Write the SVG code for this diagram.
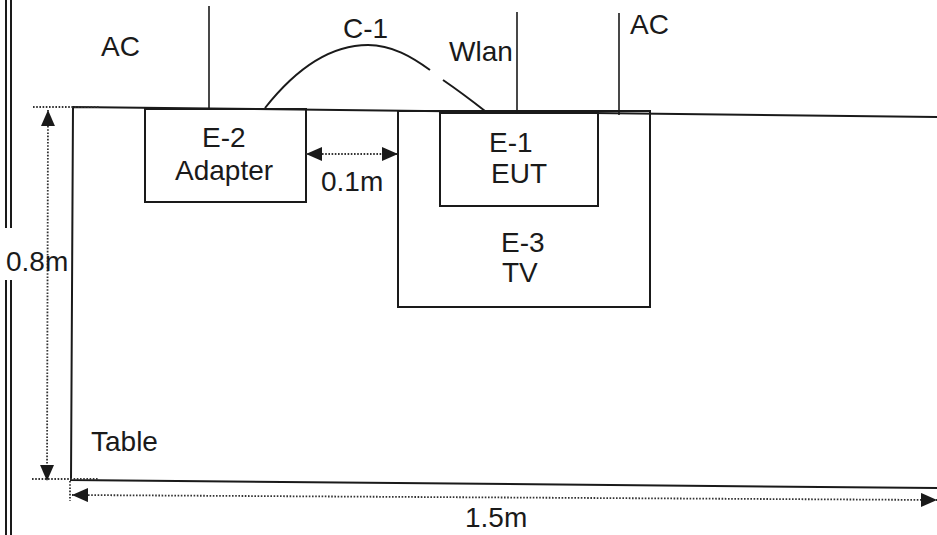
<svg xmlns="http://www.w3.org/2000/svg" width="937" height="535" viewBox="0 0 937 535">
<defs>
<style>
.t{font-family:"Liberation Sans",Arial,sans-serif;font-size:28px;fill:#1a1a1a}
.s{fill:none;stroke:#1a1a1a;stroke-width:2}
.th{fill:none;stroke:#1a1a1a;stroke-width:1.6}
.d{fill:none;stroke:#333;stroke-width:1.8;stroke-dasharray:1.6 1.6}
</style>
<marker id="ah" viewBox="0 0 16 14" refX="16" refY="7" markerWidth="16" markerHeight="14" markerUnits="userSpaceOnUse" orient="auto-start-reverse">
<path d="M0,0 L16,7 L0,14 Z" fill="#1a1a1a"/>
</marker>
</defs>
<rect width="937" height="535" fill="#fff"/>
<g id="frame">
<line class="s" x1="6" y1="0" x2="6" y2="228"/>
<line class="s" x1="11" y1="0" x2="11" y2="228"/>
<line class="s" x1="6" y1="280" x2="6" y2="535"/>
<line class="s" x1="11" y1="280" x2="11" y2="535"/>
</g>
<g id="table">
<path class="s" d="M73,107 L937,117 M73,107 L71,480 L937,488"/>
<text class="t" x="91" y="451">Table</text>
</g>
<g id="e2">
<rect class="s" x="145" y="109" width="161" height="93"/>
<text class="t" x="202" y="147">E-2</text>
<text class="t" x="175" y="180">Adapter</text>
</g>
<g id="e3">
<rect class="s" x="398" y="111" width="252" height="196"/>
<text class="t" x="501" y="252">E-3</text>
<text class="t" x="502" y="282">TV</text>
</g>
<g id="e1">
<rect class="s" x="440" y="113" width="158" height="93"/>
<text class="t" x="489" y="152">E-1</text>
<text class="t" x="491" y="183">EUT</text>
</g>
<g id="ac1">
<text class="t" x="101" y="56">AC</text>
</g>
<g id="wlan">
<text class="t" x="449" y="61">Wlan</text>
</g>
<g id="ac2">
<text class="t" x="630" y="34">AC</text>
</g>
<g id="connectors">
<line class="th" x1="209" y1="6" x2="209" y2="108"/>
<line class="th" x1="517" y1="12" x2="517" y2="114"/>
<line class="th" x1="619" y1="13" x2="619" y2="115"/>
<path class="s" d="M265,108 C295,70 330,45 368,45 C392,45 412,57 430,70"/>
<path class="s" d="M443,80 Q462,93 485,111"/>
<text class="t" x="343" y="38">C-1</text>
<line class="d" x1="306" y1="154" x2="398" y2="154" marker-start="url(#ah)" marker-end="url(#ah)"/>
<text class="t" x="321" y="191">0.1m</text>
<line class="d" x1="33" y1="107" x2="100" y2="107"/>
<line class="d" x1="32" y1="479" x2="98" y2="479"/>
<line class="d" x1="70" y1="481" x2="70" y2="501"/>
<line class="d" x1="48" y1="110" x2="47" y2="481" marker-start="url(#ah)" marker-end="url(#ah)"/>
<text class="t" x="6" y="271">0.8m</text>
<line class="d" x1="72" y1="495" x2="937" y2="500" marker-start="url(#ah)" marker-end="url(#ah)"/>
<text class="t" x="465" y="527">1.5m</text>
</g>
</svg>
